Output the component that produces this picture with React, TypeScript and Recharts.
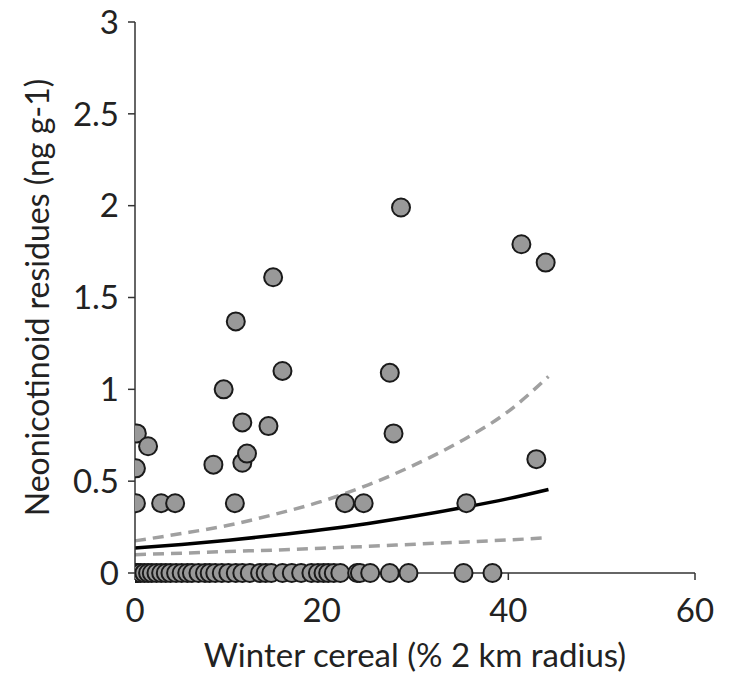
import { ComposedChart, Scatter, Line, XAxis, YAxis } from "recharts";

// residue samples: winter cereal % (x) vs neonicotinoid residue (y)
const positiveX = [
  0.2, 0.1, 1.4, 0.1, 2.8, 4.3, 8.4, 9.5, 10.7, 10.8, 11.5, 11.5, 12.0, 14.3,
  14.8, 15.8, 22.5, 24.5, 27.3, 27.7, 28.5, 35.5, 41.4, 43.0, 44.0,
];
const positiveY = [
  0.76, 0.57, 0.69, 0.38, 0.38, 0.38, 0.59, 1.0, 0.38, 1.37, 0.82, 0.6, 0.65,
  0.8, 1.61, 1.1, 0.38, 0.38, 1.09, 0.76, 1.99, 0.38, 1.79, 0.62, 1.69,
];
const zeroX = [
  0, 0.1, 0.3, 0.6, 1.0, 1.4, 1.8, 2.3, 2.8, 3.3, 3.8, 4.4, 5.0, 5.6, 6.1, 6.8,
  7.5, 8.0, 8.6, 9.3, 10.0, 10.8, 11.5, 12.3, 13.4, 14.0, 14.6, 15.8, 16.8,
  17.8, 18.9, 19.6, 20.2, 20.7, 21.3, 22.0, 23.8, 24.1, 25.2, 27.3, 29.3, 35.2,
  38.3,
];

// fitted curve and confidence bands, read at these x positions
const fitX = [0, 5, 10, 15, 20, 25, 30, 35, 40, 44.3];
const fitMid = [0.136, 0.155, 0.178, 0.205, 0.235, 0.27, 0.31, 0.355, 0.405, 0.455];
const fitUpper = [0.175, 0.215, 0.26, 0.32, 0.39, 0.48, 0.59, 0.72, 0.88, 1.07];
const fitLower = [0.1, 0.108, 0.117, 0.125, 0.135, 0.145, 0.157, 0.168, 0.18, 0.192];

const xTicks = [0, 20, 40, 60];
const yTicks = [0, 0.5, 1, 1.5, 2, 2.5, 3];

const points = [
  ...positiveX.map((x, i) => ({ x, y: positiveY[i] })),
  ...zeroX.map((x) => ({ x, y: 0 })),
];
const fitData = fitX.map((x, i) => ({
  x,
  mid: fitMid[i],
  upper: fitUpper[i],
  lower: fitLower[i],
}));

const font = "Lato, 'Open Sans', sans-serif";
const axisColor = "#333";
const textColor = "#222";

const Dot = (props: any) => (
  <circle
    cx={props.cx}
    cy={props.cy}
    r={9}
    fill="#999999"
    stroke="#1a1a1a"
    strokeWidth={2}
  />
);

export default function App() {
  return (
    <div style={{ margin: -8 }}>
      <ComposedChart
        width={729}
        height={683}
        margin={{ top: 22, right: 34, bottom: 0, left: 0 }}
        style={{ fontFamily: font }}
      >
        <XAxis
          type="number"
          dataKey="x"
          domain={[0, 60]}
          ticks={xTicks}
          tickSize={7}
          tickMargin={19}
          height={110}
          axisLine={{ stroke: axisColor, strokeWidth: 1.5 }}
          tickLine={{ stroke: axisColor, strokeWidth: 1.5 }}
          tick={{ fill: textColor, fontSize: 33, fontFamily: font }}
          label={{
            value: "Winter cereal (% 2 km radius)",
            position: "insideBottom",
            offset: 16,
            fill: textColor,
            fontSize: 33,
            fontFamily: font,
          }}
          allowDataOverflow
        />
        <YAxis
          type="number"
          dataKey="y"
          domain={[0, 3]}
          ticks={yTicks}
          tickSize={7}
          tickMargin={9}
          width={135}
          axisLine={{ stroke: axisColor, strokeWidth: 1.5 }}
          tickLine={{ stroke: axisColor, strokeWidth: 1.5 }}
          tick={{ fill: textColor, fontSize: 33, fontFamily: font }}
          label={{
            value: "Neonicotinoid residues (ng g-1)",
            angle: -90,
            position: "insideLeft",
            offset: 38,
            style: { textAnchor: "middle" },
            fill: textColor,
            fontSize: 32,
            fontFamily: font,
          }}
        />
        <Line
          data={fitData}
          dataKey="upper"
          type="monotone"
          stroke="#a0a0a0"
          strokeWidth={3.5}
          strokeDasharray="11 7"
          dot={false}
          activeDot={false}
          isAnimationActive={false}
        />
        <Line
          data={fitData}
          dataKey="lower"
          type="monotone"
          stroke="#a0a0a0"
          strokeWidth={3.5}
          strokeDasharray="11 7"
          dot={false}
          activeDot={false}
          isAnimationActive={false}
        />
        <Line
          data={fitData}
          dataKey="mid"
          type="monotone"
          stroke="#000"
          strokeWidth={3.5}
          dot={false}
          activeDot={false}
          isAnimationActive={false}
        />
        <Scatter
          data={points}
          dataKey="y"
          shape={<Dot />}
          isAnimationActive={false}
        />
      </ComposedChart>
    </div>
  );
}
